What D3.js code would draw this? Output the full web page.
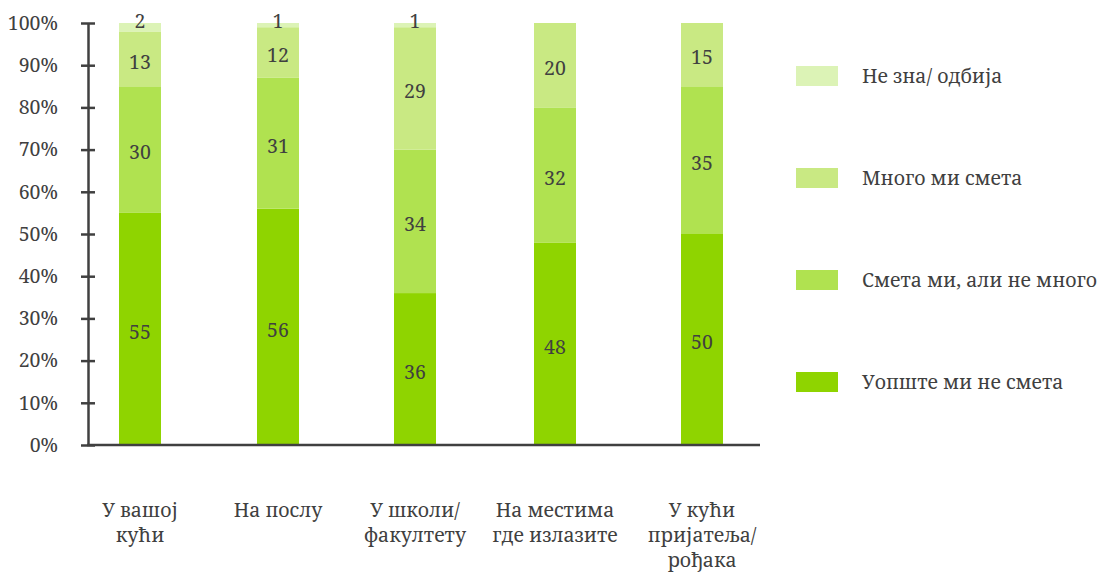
<!DOCTYPE html>
<html>
<head>
<meta charset="utf-8">
<script src="https://cdn.jsdelivr.net/npm/d3@7"></script>
<style>
  body { margin: 0; background: #fff; }
</style>
</head>
<body>
<svg width="1098" height="575"></svg>
<script>
// categories (multi-line labels as shown under the axis)
const categories = ["У вашој кући", "На послу", "У школи/ факултету", "На местима где излазите", "У кући пријатеља/ рођака"];
const categoryLines = [["У вашој", "кући"], ["На послу"], ["У школи/", "факултету"], ["На местима", "где излазите"], ["У кући", "пријатеља/", "рођака"]];

const seriesNames = ["Уопште ми не смета", "Смета ми, али не много", "Много ми смета", "Не зна/ одбија"];
const notAtAll = [55, 56, 36, 48, 50];
const notMuch = [30, 31, 34, 32, 35];
const veryMuch = [13, 12, 29, 20, 15];
const dontKnow = [2, 1, 1, 0, 0];

const colors = ["#8fd400", "#b0e250", "#c9e983", "#dcf3b6"];
const yTicks = [0, 10, 20, 30, 40, 50, 60, 70, 80, 90, 100];

const FONT = '"Noto Serif", "DejaVu Serif", serif';
const TXT = '#404040';

const rows = categories.map((c, i) => ({
    cat: c,
    [seriesNames[0]]: notAtAll[i],
    [seriesNames[1]]: notMuch[i],
    [seriesNames[2]]: veryMuch[i],
    [seriesNames[3]]: dontKnow[i]
}));

const $svg = d3.select('svg');

// bar centres are not evenly spaced in the original
const x = d3.scaleOrdinal().domain(categories).range([140, 278, 415, 555, 702]);
const y = d3.scaleLinear().domain([0, 100]).range([445, 23]);
const barW = 42;

const stacked = d3.stack().keys(seriesNames).offset(d3.stackOffsetExpand)(rows);

// bars
const $layers = $svg.append('g').selectAll('g')
    .data(stacked)
    .join('g')
    .attr('fill', (d, i) => colors[i]);

$layers.selectAll('rect')
    .data(d => d)
    .join('rect')
    .attr('x', d => x(d.data.cat) - barW / 2)
    .attr('y', d => y(d[1] * 100))
    .attr('width', barW)
    .attr('height', d => y(d[0] * 100) - y(d[1] * 100));

// value labels
stacked.forEach((layer) => {
    $svg.append('g').selectAll('text')
        .data(layer.filter(d => d.data[layer.key] > 0))
        .join('text')
        .attr('x', d => x(d.data.cat))
        .attr('y', d => (d[1] - d[0]) < 0.05 ? 21 : y((d[0] + d[1]) * 50) + 3)
        .attr('dy', '0.35em')
        .attr('text-anchor', 'middle')
        .style('font-family', FONT)
        .style('font-size', '19.5px')
        .style('fill', TXT)
        .text(d => d.data[layer.key]);
});

// y axis
const $yAxis = $svg.append('g')
    .attr('transform', 'translate(88,0)')
    .call(d3.axisLeft(y).tickValues(yTicks).tickSize(0).tickPadding(30).tickFormat(d => d + '%'));
$yAxis.select('.domain').attr('stroke', '#404040').attr('stroke-width', 2.5);
$yAxis.selectAll('.tick text')
    .style('font-family', FONT)
    .style('font-size', '19.5px')
    .style('fill', TXT);
$yAxis.selectAll('.tick').append('line')
    .attr('x1', -7).attr('x2', 7)
    .attr('stroke', '#404040').attr('stroke-width', 2.5);

// x axis line
$svg.append('line')
    .attr('x1', 87).attr('x2', 760)
    .attr('y1', 445).attr('y2', 445)
    .attr('stroke', '#404040').attr('stroke-width', 2.5);

// category labels
const $cats = $svg.append('g').selectAll('text')
    .data(categories)
    .join('text')
    .attr('text-anchor', 'middle')
    .attr('transform', d => `translate(${x(d)},517)`)
    .style('font-family', FONT)
    .style('font-size', '19.5px')
    .style('fill', TXT);
$cats.selectAll('tspan')
    .data((d, i) => categoryLines[i])
    .join('tspan')
    .attr('x', 0)
    .attr('dy', (d, i) => i === 0 ? 0 : 25)
    .text(d => d);

// legend, top entry first
const legendOrder = seriesNames.map((s, i) => ({ name: s, color: colors[i] })).reverse();
const $legend = $svg.append('g').selectAll('g')
    .data(legendOrder)
    .join('g')
    .attr('transform', (d, i) => `translate(796,${66 + i * 102})`);
$legend.append('rect')
    .attr('width', 42).attr('height', 20)
    .attr('fill', d => d.color);
$legend.append('text')
    .attr('x', 66).attr('y', 10)
    .attr('dy', '0.35em')
    .style('font-family', FONT)
    .style('font-size', '19.5px')
    .style('fill', TXT)
    .text(d => d.name);
</script>
</body>
</html>
